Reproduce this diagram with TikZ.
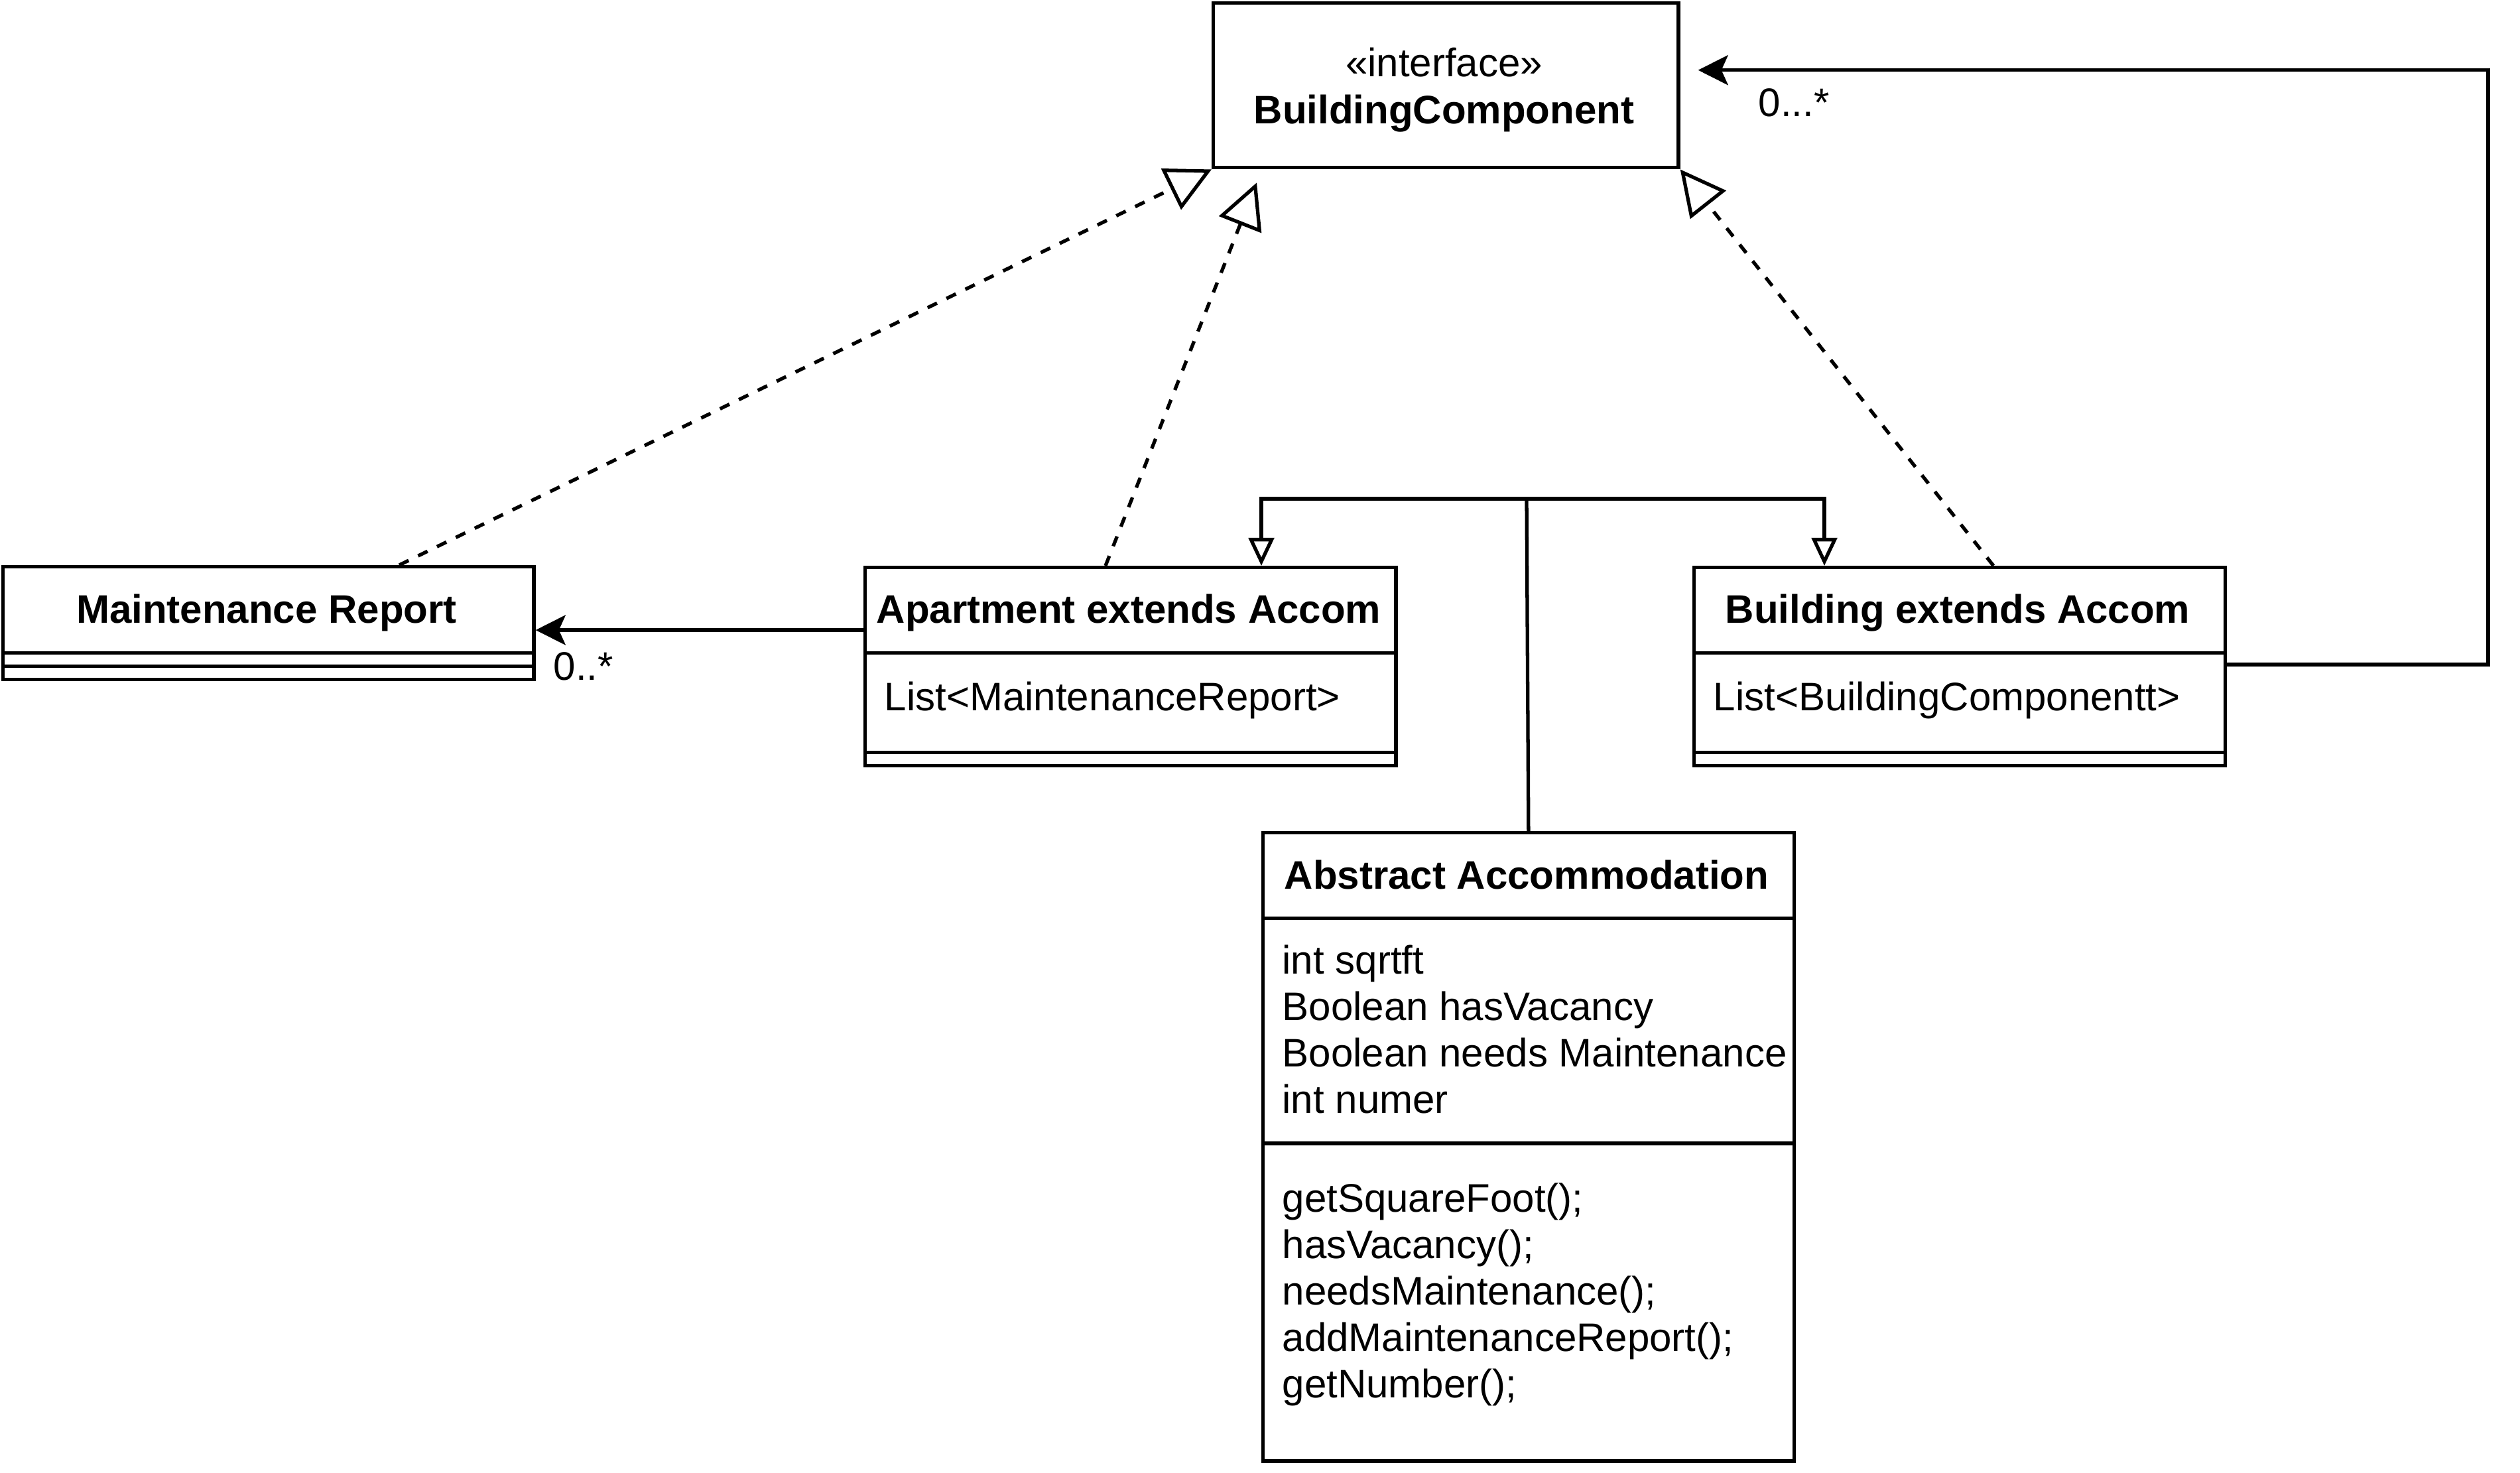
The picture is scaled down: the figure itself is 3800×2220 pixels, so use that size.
\documentclass[tikz,border=0pt]{standalone}
\usepackage{fontspec}
\setmainfont{Liberation Sans}
\usetikzlibrary{arrows.meta,calc}

\begin{document}
\begin{tikzpicture}[x=0.01cm,y=-0.01cm,
  line width=1.5pt,
  box/.style={draw, line width=1.5pt, rectangle, inner sep=0pt, anchor=north west, minimum width=8cm},
  txt/.style={inner sep=0pt, font=\fontsize{17.07pt}{20pt}\selectfont},
  ttl/.style={inner sep=0pt, font=\fontsize{17.07pt}{20pt}\selectfont\bfseries, anchor=base},
  item/.style={txt, anchor=base west},
  real/.style={dash pattern=on 4.5pt off 4.5pt, -{Triangle[open, length=0.68cm, width=0.68cm]}},
  gen/.style={-{Triangle[open, length=0.42cm, width=0.38cm]}},
  assoc/.style={-{Stealth[length=0.45cm, width=0.45cm, inset=0.1cm]}},
]
\fill[white] (0,0) rectangle (3800,2220);
\useasboundingbox (0,0) rectangle (3800,2220);

% interface
\node[box, minimum width=7.01cm, minimum height=2.48cm] (bc) at (1827,2) {};
\node[txt, anchor=base] (bcst) at (2177.5,115) {«interface»};
\node[ttl] (bct) at (2177.5,186) {BuildingComponent};

% Maintenance Report
\node[box, minimum height=1.30cm] (mrh) at (2,852) {};
\node[box, minimum height=0.20cm] (mra) at (2,982) {};
\node[box, minimum height=0.20cm] (mro) at (2,1002) {};
\node[ttl] (mrt) at (402,939) {Maintenance Report};

% Apartment
\node[box, minimum height=1.29cm] (apth) at (1302,853) {};
\node[box, minimum height=1.50cm] (apta) at (1302,982) {};
\node[box, minimum height=0.20cm] (apto) at (1302,1132) {};
\node[ttl] (aptt) at (1702,939) {Apartment extends Accom};
\node[item] (apti) at (1331,1071) {List<MaintenanceReport>};

% Building
\node[box, minimum height=1.29cm] (bldh) at (2552,853) {};
\node[box, minimum height=1.50cm] (blda) at (2552,982) {};
\node[box, minimum height=0.20cm] (bldo) at (2552,1132) {};
\node[ttl] (bldt) at (2952,939) {Building extends Accom};
\node[item] (bldi) at (2581,1071) {List<BuildingComponentt>};

% Abstract Accommodation
\node[box, minimum height=1.29cm] (absh) at (1902,1253) {};
\node[box, minimum height=3.39cm] (absa) at (1902,1382) {};
\node[box, minimum height=4.79cm] (abso) at (1902,1721) {};
\node[ttl] (abst) at (2302,1340) {Abstract Accommodation};
\node[item] (a1) at (1931,1468) {int sqrtft};
\node[item] (a2) at (1931,1538) {Boolean hasVacancy};
\node[item] (a3) at (1931,1608) {Boolean needs Maintenance};
\node[item] (a4) at (1931,1678) {int numer};
\node[item] (m1) at (1931,1827) {getSquareFoot();};
\node[item] (m2) at (1931,1897) {hasVacancy();};
\node[item] (m3) at (1931,1967) {needsMaintenance();};
\node[item] (m4) at (1931,2037) {addMaintenanceReport();};
\node[item] (m5) at (1931,2107) {getNumber();};

% realizations of the interface
\draw[real] ($(mrh.north west)+(600,0)$) -- (bc.south west);
\draw[real] ($(apth.north west)+(365,0)$) -- ($(bc.south west)+(68,20)$);
\draw[real] ($(bldh.north west)+(454,0)$) -- (bc.south east);

% inheritance from Abstract Accommodation
\coordinate (split) at (2302,752);
\draw (absh.north) -- (split);
\draw[gen] (split) -| ($(apth.north west)+(600,0)$);
\draw[gen] (split) -| ($(bldh.north west)+(199,0)$);

% associations
\draw[assoc] ($(apta.north west)+(0,-32)$) -- ($(mra.north east)+(0,-32)$);
\node[item] (mrm) at (832,1025) {0..*};

\coordinate (bcin) at ($(bc.east)+(27,-23)$);
\coordinate (rt) at (3752,0);
\draw[assoc] ($(blda.north east)+(0,20)$) -| (rt |- bcin) -- (bcin);
\node[item] (bcm) at (2649,175) {0...*};
\end{tikzpicture}
\end{document}
